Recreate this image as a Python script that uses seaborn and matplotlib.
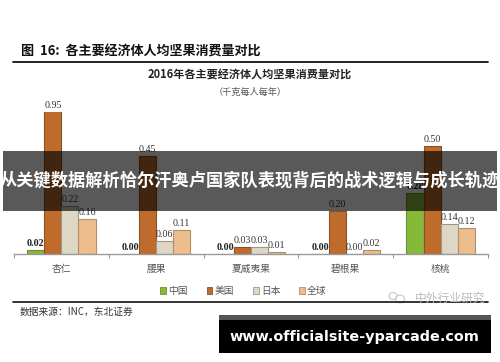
import matplotlib
matplotlib.use("Agg")
import matplotlib.pyplot as plt
import seaborn as sns
import pandas as pd
from matplotlib.patches import Patch, Rectangle, Ellipse
from matplotlib.lines import Line2D

# ---- data ----
nuts = ['杏仁', '腰果', '夏威夷果', '碧根果', '核桃']
countries = ['中国', '美国', '日本', '全球']
china = [0.02, 0.00, 0.00, 0.00, 0.28]
usa = [0.95, 0.45, 0.03, 0.20, 0.50]
japan = [0.22, 0.06, 0.03, 0.00, 0.14]
world = [0.16, 0.11, 0.01, 0.02, 0.12]

heading = '图  16:  各主要经济体人均坚果消费量对比'
title = '2016年各主要经济体人均坚果消费量对比'
subtitle = '（千克每人每年）'
source = '数据来源：INC，东北证券'
watermark = '中外行业研究'
overlay_text = '从关键数据解析恰尔汗奥卢国家队表现背后的战术逻辑与成长轨迹'
url_text = 'www.officialsite-yparcade.com'

colors = ['#86B83A', '#BF6B2C', '#DDD8C6', '#EDBD8E']
edges = ['#6E8F35', '#8A5028', '#9C9789', '#B58C68']

sns.set_theme(style='white')
plt.rcParams['font.family'] = ['Noto Sans CJK SC', 'DejaVu Sans']

df = pd.DataFrame({
    'nut': nuts * 4,
    'country': sum([[c] * len(nuts) for c in countries], []),
    'value': china + usa + japan + world,
})

W, H = 500, 362
fig = plt.figure(figsize=(5, 3.62), dpi=100)
fig.patch.set_facecolor('white')

def fx(px):
    return px / W

def fy(py):
    return 1 - py / H

ax = fig.add_axes([fx(14), fy(254), fx(488) - fx(14), fy(112) - fy(254)])
sns.barplot(data=df, x='nut', y='value', hue='country', hue_order=countries,
            palette=colors, width=0.72, ax=ax, legend=False,
            linewidth=0.8, saturation=1)

ytop = 0.655
ax.set_ylim(0, ytop)
ax.set_xlim(-0.5, len(nuts) - 0.5)

series = [china, usa, japan, world]
for i, cont in enumerate(ax.containers):
    for j, bar in enumerate(cont):
        bar.set_edgecolor(edges[i])
        bar.set_linewidth(0.8)
        h = series[i][j]
        xc = bar.get_x() + bar.get_width() / 2
        ax.annotate(f'{h:.2f}', (xc, min(h, ytop)), xytext=(0, 1.5),
                    textcoords='offset points', ha='center', va='bottom',
                    fontsize=7.2, family='Liberation Serif',
                    fontweight='bold' if i == 0 else 'normal',
                    color='#222222' if i == 0 else '#333333',
                    annotation_clip=False)

for s in ['left', 'right', 'top']:
    ax.spines[s].set_visible(False)
ax.spines['bottom'].set_color('#999999')
ax.spines['bottom'].set_linewidth(1.0)
ax.set_yticks([])
ax.set_xlabel('')
ax.set_ylabel('')
ax.set_xticks(range(len(nuts)))
ax.set_xticklabels(nuts, fontsize=7, color='#555555')
ax.set_xticks([k - 0.5 for k in range(len(nuts) + 1)], minor=True)
ax.tick_params(axis='x', which='major', length=0, pad=7)
ax.tick_params(axis='x', which='minor', length=3, width=0.8, color='#999999',
               direction='out', bottom=True)

# legend
handles = [Patch(facecolor=c, edgecolor=e, linewidth=0.6) for c, e in zip(colors, edges)]
fig.legend(handles, countries, loc='center', bbox_to_anchor=(0.487, fy(291)),
           ncol=4, frameon=False, fontsize=7, handlelength=0.6, handleheight=0.6,
           handletextpad=0.25, columnspacing=1.9, labelcolor='#555555')

# texts
fig.text(fx(21), fy(52), heading, fontsize=9.4, fontweight='bold', color='#111111',
         ha='left', va='center')
fig.add_artist(Line2D([fx(12.5), fx(488)], [fy(62), fy(62)], color='#111111', lw=1.3))
fig.text(0.5, fy(75), title, fontsize=8, fontweight='bold', color='#222222',
         ha='center', va='center')
fig.text(0.5, fy(92.5), subtitle, fontsize=6.6, color='#555555', ha='center', va='center')
fig.add_artist(Line2D([fx(12.5), fx(488)], [fy(302), fy(302)], color='#111111', lw=1.2))
fig.text(fx(20), fy(312), source, fontsize=7, color='#333333', ha='left', va='center')

# watermark
fig.text(fx(485), fy(298), watermark, fontsize=8.5, color='#BBBBBB', ha='right',
         va='center', zorder=5)
fig.add_artist(Ellipse((fx(393), fy(296)), fx(8), fx(7) * W / H, fill=False,
                       edgecolor='#C8C8C8', lw=0.8, transform=fig.transFigure))
fig.add_artist(Ellipse((fx(400), fy(299)), fx(9), fx(8) * W / H, fill=False,
                       edgecolor='#C8C8C8', lw=0.8, transform=fig.transFigure))

# overlay band
fig.add_artist(Rectangle((fx(3), fy(211)), fx(497) - fx(3), fy(151) - fy(211),
                         transform=fig.transFigure, facecolor='black', alpha=0.65,
                         edgecolor='none', zorder=10))
fig.text(0.5, fy(181), overlay_text, fontsize=12.4, fontweight='bold', color='white',
         ha='center', va='center', zorder=11)

# url box
fig.add_artist(Rectangle((fx(219), fy(320)), fx(491) - fx(219), fy(315) - fy(320),
                         transform=fig.transFigure, facecolor='#555555',
                         edgecolor='none', zorder=10))
fig.add_artist(Rectangle((fx(219), fy(353)), fx(491) - fx(219), fy(320) - fy(353),
                         transform=fig.transFigure, facecolor='black',
                         edgecolor='none', zorder=10))
fig.text(fx(354), fy(337), url_text, fontsize=10.4, fontweight='bold', color='white',
         ha='center', va='center', family='DejaVu Sans', zorder=11)

fig.savefig('out.png', dpi=100, facecolor='white')
